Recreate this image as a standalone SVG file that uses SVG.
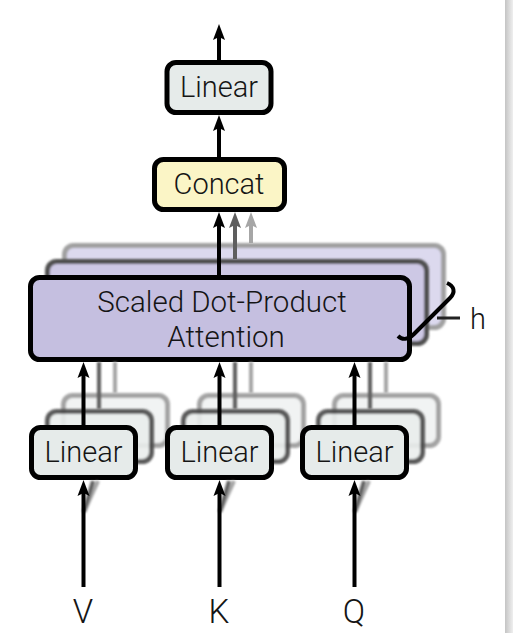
<svg xmlns="http://www.w3.org/2000/svg" width="513" height="633" viewBox="0 0 513 633">
<defs>
<style>
text{font-family:Roboto,"Liberation Sans",Arial,sans-serif;font-weight:300;fill:#151515;text-anchor:middle}
.box{stroke:#000;stroke-width:5}
.lin{fill:#e6ebea}
.linm{fill:#eaeeed;stroke:#4a4a4a;stroke-width:5;opacity:.9}
.linb{fill:#f0f2f2;stroke:#9a9a9a;stroke-width:5;opacity:.9}
.att{fill:#c5bfe0}
.attm{fill:#cdc8e5;stroke:#505050;stroke-width:5}
.attb{fill:#dcd9ee;stroke:#a0a0a0;stroke-width:5}
.cc{fill:#fbf5c6}
.k{stroke:#000;stroke-width:4;fill:none}
.d{stroke:#5e5e5e;stroke-width:4;fill:none}
.l{stroke:#a6a6a6;stroke-width:4;fill:none}
</style>
<filter id="soft" x="-10%" y="-10%" width="120%" height="120%"><feGaussianBlur stdDeviation="0.8"/></filter>
<marker id="ak" viewBox="0 -7 16 14" refX="6" refY="0" markerWidth="16" markerHeight="14" markerUnits="userSpaceOnUse" orient="auto"><path d="M0,-6 L16,0 L0,6 L3,0 Z" fill="#000"/></marker>
<marker id="ad" viewBox="0 -7 16 14" refX="6" refY="0" markerWidth="16" markerHeight="14" markerUnits="userSpaceOnUse" orient="auto"><path d="M0,-6 L16,0 L0,6 L3,0 Z" fill="#5e5e5e"/></marker>
<marker id="al" viewBox="0 -7 16 14" refX="6" refY="0" markerWidth="16" markerHeight="14" markerUnits="userSpaceOnUse" orient="auto"><path d="M0,-6 L16,0 L0,6 L3,0 Z" fill="#a6a6a6"/></marker>
<linearGradient id="strip" x1="0" y1="0" x2="1" y2="0"><stop offset="0" stop-color="#c4c4c4"/><stop offset="1" stop-color="#efefef"/></linearGradient>
</defs>
<rect width="513" height="633" fill="#fff"/>
<rect x="505" y="0" width="8" height="633" fill="url(#strip)"/>

<g id="attention">
<rect class="attb" x="64.5" y="245.5" width="379" height="82" rx="9" filter="url(#soft)"/>
<rect class="attm" x="47.5" y="261.5" width="379" height="82" rx="9" filter="url(#soft)"/>
<rect class="att box" x="30.5" y="277.5" width="379" height="82" rx="9"/>
<text x="222" y="312" font-size="29.5">Scaled Dot-Product</text>
<text x="226" y="347" font-size="29.5">Attention</text>
</g>

<g id="linear-v">
<rect class="linb" x="63.5" y="395.5" width="104" height="50" rx="9" filter="url(#soft)"/>
<rect class="linm" x="47.5" y="411.5" width="104" height="50" rx="9" filter="url(#soft)"/>
<rect class="lin box" x="31.5" y="427.5" width="104" height="50" rx="9"/>
<text x="83.5" y="462" font-size="29">Linear</text>
</g>
<g id="linear-k">
<rect class="linb" x="199.5" y="395.5" width="104" height="50" rx="9" filter="url(#soft)"/>
<rect class="linm" x="183.5" y="411.5" width="104" height="50" rx="9" filter="url(#soft)"/>
<rect class="lin box" x="167.5" y="427.5" width="104" height="50" rx="9"/>
<text x="219.5" y="462" font-size="29">Linear</text>
</g>
<g id="linear-q">
<rect class="linb" x="334.5" y="395.5" width="104" height="50" rx="9" filter="url(#soft)"/>
<rect class="linm" x="318.5" y="411.5" width="104" height="50" rx="9" filter="url(#soft)"/>
<rect class="lin box" x="302.5" y="427.5" width="104" height="50" rx="9"/>
<text x="354.5" y="462" font-size="29">Linear</text>
</g>

<g id="concat">
<rect class="cc box" x="154.5" y="159.5" width="130" height="50" rx="9"/>
<text x="219" y="194" font-size="29">Concat</text>
</g>
<g id="linear-out">
<rect class="lin box" x="167" y="62.5" width="104" height="50" rx="9"/>
<text x="219" y="97" font-size="29">Linear</text>
</g>

<g id="inputs">
<text x="83" y="623" font-size="33">V</text>
<text x="219" y="623" font-size="33">K</text>
<text x="354" y="623" font-size="33">Q</text>
</g>

<g id="heads-label">
<path d="M447,283 C454,286 456,292 450,298 L414,334 C408,340 402,340 398,336" stroke="#000" stroke-width="4" fill="none"/>
<line x1="437" y1="318" x2="460" y2="318" stroke="#222" stroke-width="3"/>
<text x="478" y="329" font-size="29">h</text>
</g>

<g id="connectors">
<g filter="url(#soft)">
<line class="l" x1="115" y1="393" x2="115" y2="362"/>
<line class="d" x1="99" y1="409" x2="99" y2="362"/>
<line class="l" x1="251" y1="393" x2="251" y2="362"/>
<line class="d" x1="235" y1="409" x2="235" y2="362"/>
<line class="l" x1="386" y1="393" x2="386" y2="362"/>
<line class="d" x1="370" y1="409" x2="370" y2="362"/>
<line class="l" x1="84" y1="512" x2="98" y2="481"/>
<line class="d" x1="84" y1="512" x2="93" y2="481"/>
<line class="l" x1="220" y1="512" x2="234" y2="481"/>
<line class="d" x1="220" y1="512" x2="229" y2="481"/>
<line class="l" x1="355" y1="512" x2="369" y2="481"/>
<line class="d" x1="355" y1="512" x2="364" y2="481"/>
</g>
<line class="l" x1="251" y1="243" x2="251" y2="222" marker-end="url(#al)"/>
<line class="d" x1="235" y1="259" x2="235" y2="222" marker-end="url(#ad)"/>
<line class="k" x1="219" y1="275" x2="219" y2="222" marker-end="url(#ak)"/>
<line class="k" x1="219" y1="157" x2="219" y2="125" marker-end="url(#ak)"/>
<line class="k" x1="219" y1="60" x2="219" y2="34" marker-end="url(#ak)"/>
<line class="k" x1="83.5" y1="425" x2="83.5" y2="372" marker-end="url(#ak)"/>
<line class="k" x1="219.5" y1="425" x2="219.5" y2="372" marker-end="url(#ak)"/>
<line class="k" x1="354.5" y1="425" x2="354.5" y2="372" marker-end="url(#ak)"/>
<line class="k" x1="83.5" y1="587" x2="83.5" y2="490" marker-end="url(#ak)"/>
<line class="k" x1="219.5" y1="587" x2="219.5" y2="490" marker-end="url(#ak)"/>
<line class="k" x1="354.5" y1="587" x2="354.5" y2="490" marker-end="url(#ak)"/>
</g>
</svg>
